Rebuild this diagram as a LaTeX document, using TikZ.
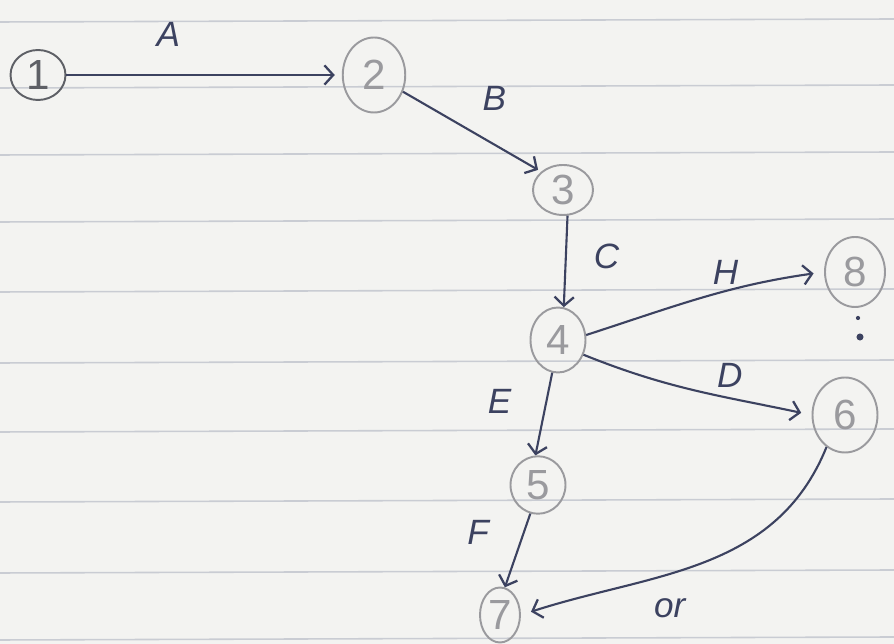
\documentclass[tikz,border=0pt]{standalone}
\usepackage{fontspec}
\setsansfont{Liberation Sans}
\usetikzlibrary{shapes.geometric,arrows.meta}
\definecolor{paper}{HTML}{F3F3F1}
\definecolor{rule}{HTML}{C9CCD3}
\definecolor{ink}{HTML}{3C4260}
\definecolor{pencil}{HTML}{9A9A9E}
\definecolor{darkpencil}{HTML}{5E6066}
\tikzset{
  state/.style={ellipse, draw=pencil, line width=1.1pt, inner sep=0pt,
    text=pencil, font=\sffamily\fontsize{24}{26}\selectfont},
  edge/.style={draw=ink, line width=1.2pt, -{Straight Barb[length=5pt,width=11pt,line width=1.3pt]}},
  lbl/.style={text=ink, font=\sffamily\itshape\fontsize{20}{22}\selectfont},
  ruled/.style={draw=rule, line width=0.9pt}
}
\begin{document}
\begin{tikzpicture}[x=0.02cm, y=-0.02cm]
  % sheet of lined paper
  \fill[paper] (0,0) rectangle (894,644);
  \useasboundingbox (0,0) rectangle (894,644);
  \foreach \y in {22,88,155,222,292,363,432,502,573,640}
    \draw[ruled] (0,\y) -- (894,\y-3);

  % events
  \node[state, draw=darkpencil, text=darkpencil, minimum width=1.1cm, minimum height=1.0cm] (n1) at (38,75) {1};
  \node[state, minimum width=1.25cm, minimum height=1.5cm] (n2) at (374,75) {2};
  \node[state, minimum width=1.2cm, minimum height=1.0cm] (n3) at (563,190) {3};
  \node[state, minimum width=1.1cm, minimum height=1.3cm] (n4) at (558,340) {4};
  \node[state, minimum width=1.1cm, minimum height=1.15cm] (n5) at (538,485) {5};
  \node[state, minimum width=0.8cm, minimum height=1.1cm] (n7) at (500,615) {7};
  \node[state, minimum width=1.2cm, minimum height=1.4cm] (n8) at (855,272) {8};
  \node[state, minimum width=1.3cm, minimum height=1.5cm] (n6) at (845,415) {6};

  % activities
  \draw[edge, shorten >=4pt] (n1.east) -- (n2.west) node[lbl, pos=0.37, above=12pt] {A};
  \draw[edge, shorten >=2pt] (n2.-30) -- (n3.140) node[lbl, pos=0.45, above right=6pt] {B};
  \draw[edge] (n3.-80) -- (n4.80) node[lbl, pos=0.45, right=12pt] {C};
  \draw[edge, shorten >=6pt] (n4.10) to[out=18, in=188] node[lbl, pos=0.6, above=0pt] {H} (n8.west);
  \draw[edge, shorten >=6pt] (n4.-30) to[out=-22, in=168] node[lbl, pos=0.66, above=2pt] {D} (n6.west);
  \draw[edge] (n4.-100) -- (n5.95) node[lbl, pos=0.35, left=16pt] {E};
  \draw[edge] (n5.-105) -- (n7.80) node[lbl, pos=0.25, left=16pt] {F};
  \draw[edge, shorten >=6pt] (n6.-120) to[out=-112, in=18] node[lbl, pos=0.6, below=10pt] {or} (n7.east);

  % dotted gap between 8 and 6
  \fill[ink] (858,318) circle (1.2pt);
  \fill[ink] (860,337) circle (2pt);
\end{tikzpicture}
\end{document}
